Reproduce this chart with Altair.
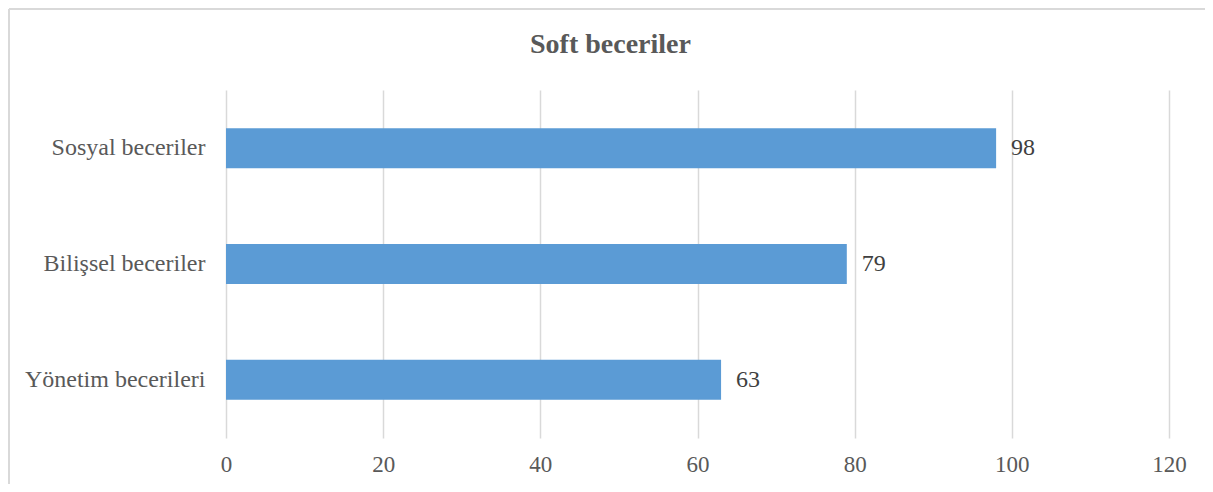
import altair as alt
import pandas as pd

title_text = "Soft beceriler"
categories = ["Sosyal beceriler", "Bilişsel beceriler", "Yönetim becerileri"]
values = [98, 79, 63]
x_ticks = [0, 20, 40, 60, 80, 100, 120]

df = pd.DataFrame({"cat": categories, "val": values})

FONT = "Times New Roman, Liberation Serif, DejaVu Serif, serif"
W, H = 943, 348

base = alt.Chart(df)

bars = base.mark_bar(color="#5B9BD5").encode(
    x=alt.X("val:Q", scale=alt.Scale(domain=[0, 120], nice=False),
            axis=alt.Axis(values=x_ticks, title=None, domain=False, ticks=False,
                          grid=True, gridColor="#D9D9D9", gridWidth=1.5,
                          labelFont=FONT, labelFontSize=23, labelColor="#595959",
                          labelPadding=15, labelFlush=False, labelOverlap=False)),
    y=alt.Y("cat:N", sort=categories,
            scale=alt.Scale(paddingInner=0.655, paddingOuter=0.33),
            axis=alt.Axis(title=None, domain=False, ticks=False, grid=False,
                          labelFont=FONT, labelFontSize=24, labelColor="#595959",
                          labelPadding=21, labelLimit=400)),
)

labels = base.mark_text(align="left", baseline="middle", dx=15, font=FONT,
                        fontSize=24, color="#404040").encode(
    x="val:Q", y=alt.Y("cat:N", sort=categories), text="val:Q")

one = pd.DataFrame({"t": [title_text]})

title = alt.Chart(one).mark_text(font=FONT, fontSize=28, fontWeight="bold",
                                 color="#595959", align="center",
                                 baseline="alphabetic").encode(
    x=alt.value(W / 2 - 87), y=alt.value(-37), text="t:N")

top_line = alt.Chart(one).mark_rule(color="#D9D9D9", strokeWidth=2).encode(
    x=alt.value(-217), x2=alt.value(1100), y=alt.value(-81))
left_line = alt.Chart(one).mark_rule(color="#D9D9D9", strokeWidth=2).encode(
    x=alt.value(-217), y=alt.value(-81), y2=alt.value(500))

chart = alt.layer(top_line, left_line, bars, labels, title).properties(
    width=W, height=H,
    background="white",
    padding={"left": 218, "top": 82, "right": 36, "bottom": 46},
    autosize=alt.AutoSizeParams(type="none"),
).configure_view(stroke=None)

chart.save("out.html", embed_options={"renderer": "svg", "actions": False})
